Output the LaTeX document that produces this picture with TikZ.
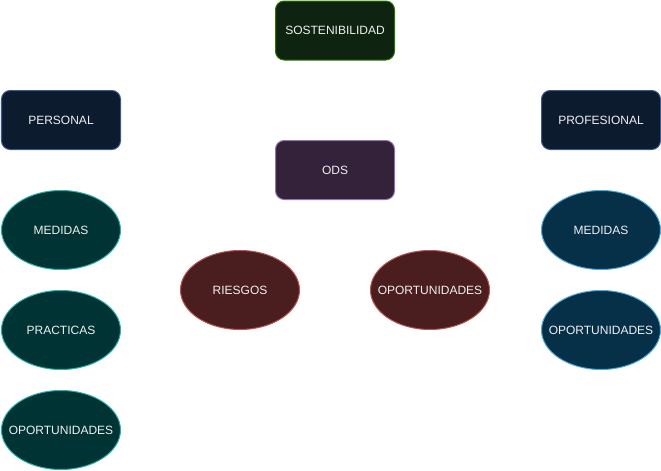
\documentclass[tikz,border=0pt]{standalone}
\usepackage{fontspec}
\setmainfont{Liberation Sans}
\usetikzlibrary{shapes.geometric}
\definecolor{gfill}{HTML}{0E2410}
\definecolor{gline}{HTML}{2D7600}
\definecolor{bfill}{HTML}{0C1B2E}
\definecolor{bline}{HTML}{3C5A8C}
\definecolor{pfill}{HTML}{33223A}
\definecolor{pline}{HTML}{9673A6}
\definecolor{tfill}{HTML}{003333}
\definecolor{tline}{HTML}{2AAFAF}
\definecolor{cfill}{HTML}{063048}
\definecolor{cline}{HTML}{4FA8D8}
\definecolor{rfill}{HTML}{4A1E1E}
\definecolor{rline}{HTML}{B85450}
\definecolor{txt}{HTML}{F0F0F0}
\newcommand{\zw}[1]{\makebox[0pt][c]{#1}}
\begin{document}
\begin{tikzpicture}[x=0.75pt,y=-0.75pt,
  every node/.style={font=\fontsize{9}{11}\selectfont, text=txt, inner sep=0pt},
  rbox/.style={rectangle, rounded corners=6.5pt, minimum width=89.25pt, minimum height=44.25pt, line width=0.75pt},
  ell/.style={ellipse, minimum width=89.25pt, minimum height=59.25pt, line width=0.75pt}]
\useasboundingbox (0,0) rectangle (661,471);
\node[rbox, fill=gfill, draw=gline] (sost) at (335,30.5) {SOSTENIBILIDAD};
\node[rbox, fill=bfill, draw=bline] (pers) at (61,120) {PERSONAL};
\node[rbox, fill=bfill, draw=bline] (prof) at (601,120) {PROFESIONAL};
\node[rbox, fill=pfill, draw=pline] (ods) at (335,170) {ODS};
\node[ell, fill=tfill, draw=tline] (lmed) at (61,230) {\zw{MEDIDAS}};
\node[ell, fill=tfill, draw=tline] (lprac) at (61,330) {\zw{PRACTICAS}};
\node[ell, fill=tfill, draw=tline] (lopo) at (61,430) {\zw{OPORTUNIDADES}};
\node[ell, fill=rfill, draw=rline] (ries) at (240,290) {\zw{RIESGOS}};
\node[ell, fill=rfill, draw=rline] (mopo) at (430,290) {\zw{OPORTUNIDADES}};
\node[ell, fill=cfill, draw=cline] (rmed) at (601,230) {\zw{MEDIDAS}};
\node[ell, fill=cfill, draw=cline] (ropo) at (601,330) {\zw{OPORTUNIDADES}};
\end{tikzpicture}
\end{document}
